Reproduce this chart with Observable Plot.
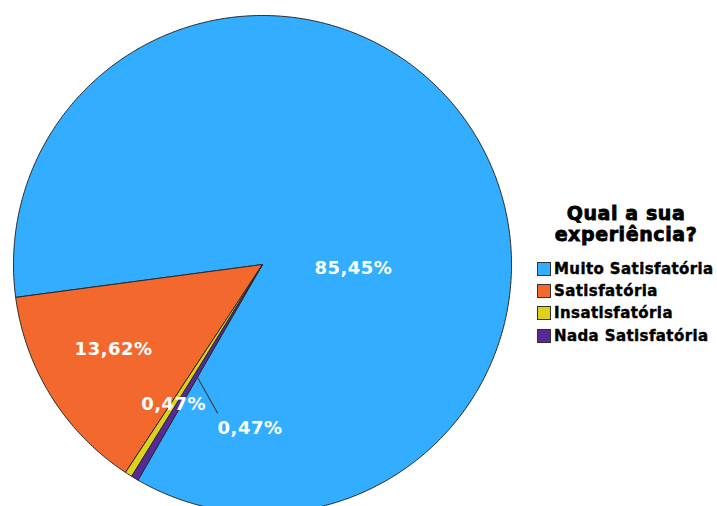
<!DOCTYPE html>
<html>
<head>
<meta charset="utf-8">
<script src="https://cdn.jsdelivr.net/npm/d3@7"></script>
<script src="https://cdn.jsdelivr.net/npm/@observablehq/plot@0.6"></script>
<style>
  html, body { margin: 0; padding: 0; background: #fff; }
  #chart { position: relative; width: 717px; height: 506px; overflow: hidden; font-family: "DejaVu Sans", sans-serif; }
  #legend-title { position: absolute; left: 537px; top: 203px; width: 178px; text-align: center;
    font-weight: bold; font-size: 19px; line-height: 21px; letter-spacing: 0.6px; color: #000;
    -webkit-text-stroke: 0.8px #000; }
  #legend-items { position: absolute; left: 537px; top: 257.7px; }
  .row { display: flex; align-items: center; height: 22.3px; }
  .sw { width: 12px; height: 12px; border: 1px solid #333; margin-right: 3px; box-sizing: content-box; }
  .lab { font-weight: bold; font-size: 15px; line-height: 22.3px; letter-spacing: 0.4px; color: #000; white-space: nowrap;
    -webkit-text-stroke: 0.4px #000; }
</style>
</head>
<body>
<div id="chart">
  <div id="legend-title">Qual a sua<br>experiência?</div>
  <div id="legend-items"></div>
</div>
<script>
// Answers to "Qual a sua experiência?" (percent of respondents)
const categories = ["Muito Satisfatória", "Satisfatória", "Insatisfatória", "Nada Satisfatória"];
const percents = [85.45, 13.62, 0.47, 0.47];
const valueLabels = ["85,45%", "13,62%", "0,47%", "0,47%"];
const colors = ["#33adff", "#f3692d", "#dcd21c", "#572a98"];

// Layout of the pie (in units of the radius, y pointing up)
const startAngle = (7 * Math.PI) / 6;           // slices run counterclockwise from here
const labelSpots = [[0.365, -0.016], [-0.598, -0.341], [-0.357, -0.562], [-0.05, -0.659]];
const leader = {x1: -0.262, y1: -0.452, x2: -0.18, y2: -0.598};

const arcs = d3.pie().sort(null).value(d => d.value)
  .startAngle(startAngle).endAngle(startAngle - 2 * Math.PI)(
    categories.map((c, i) => ({category: c, value: percents[i]}))
  );

// Each slice as a closed polygon: centre, arc samples, centre
const slicePoints = arcs.flatMap(a => {
  const span = a.endAngle - a.startAngle;
  const n = Math.max(2, Math.ceil(Math.abs(span) / 0.01));
  const pts = [{category: a.data.category, x: 0, y: 0}];
  for (let k = 0; k <= n; ++k) {
    const t = a.startAngle + (span * k) / n;
    pts.push({category: a.data.category, x: Math.sin(t), y: Math.cos(t)});
  }
  pts.push({category: a.data.category, x: 0, y: 0});
  return pts;
});

const labels = categories.map((c, i) => ({
  category: c, text: valueLabels[i], x: labelSpots[i][0], y: labelSpots[i][1]
}));

const cx = 262, cy = 264, r = 249;

const chart = Plot.plot({
  width: 717,
  height: 506,
  margin: 0,
  style: {fontFamily: "DejaVu Sans, sans-serif", letterSpacing: "0.5px", background: "transparent"},
  x: {domain: [-1, 1], range: [cx - r, cx + r], axis: null},
  y: {domain: [-1, 1], range: [cy + r, cy - r], axis: null},
  color: {domain: categories, range: colors},
  marks: [
    Plot.line(slicePoints, {
      x: "x", y: "y", z: "category", fill: "category",
      stroke: "#2a2a2a", strokeWidth: 1, strokeLinejoin: "round", curve: "linear"
    }),
    Plot.link([leader], {x1: "x1", y1: "y1", x2: "x2", y2: "y2", stroke: "#3b4650", strokeWidth: 1.2}),
    Plot.text(labels, {
      x: "x", y: "y", text: "text", fill: "white",
      fontSize: 18, fontWeight: "bold", textAnchor: "middle"
    })
  ]
});

const host = document.getElementById("chart");
chart.style.position = "absolute";
chart.style.left = "0";
chart.style.top = "0";
host.insertBefore(chart, host.firstChild);

// Legend
const items = d3.select("#legend-items");
categories.forEach((c, i) => {
  const row = items.append("div").attr("class", "row");
  row.append("div").attr("class", "sw").style("background", colors[i]);
  row.append("div").attr("class", "lab").text(c);
});
</script>
</body>
</html>
